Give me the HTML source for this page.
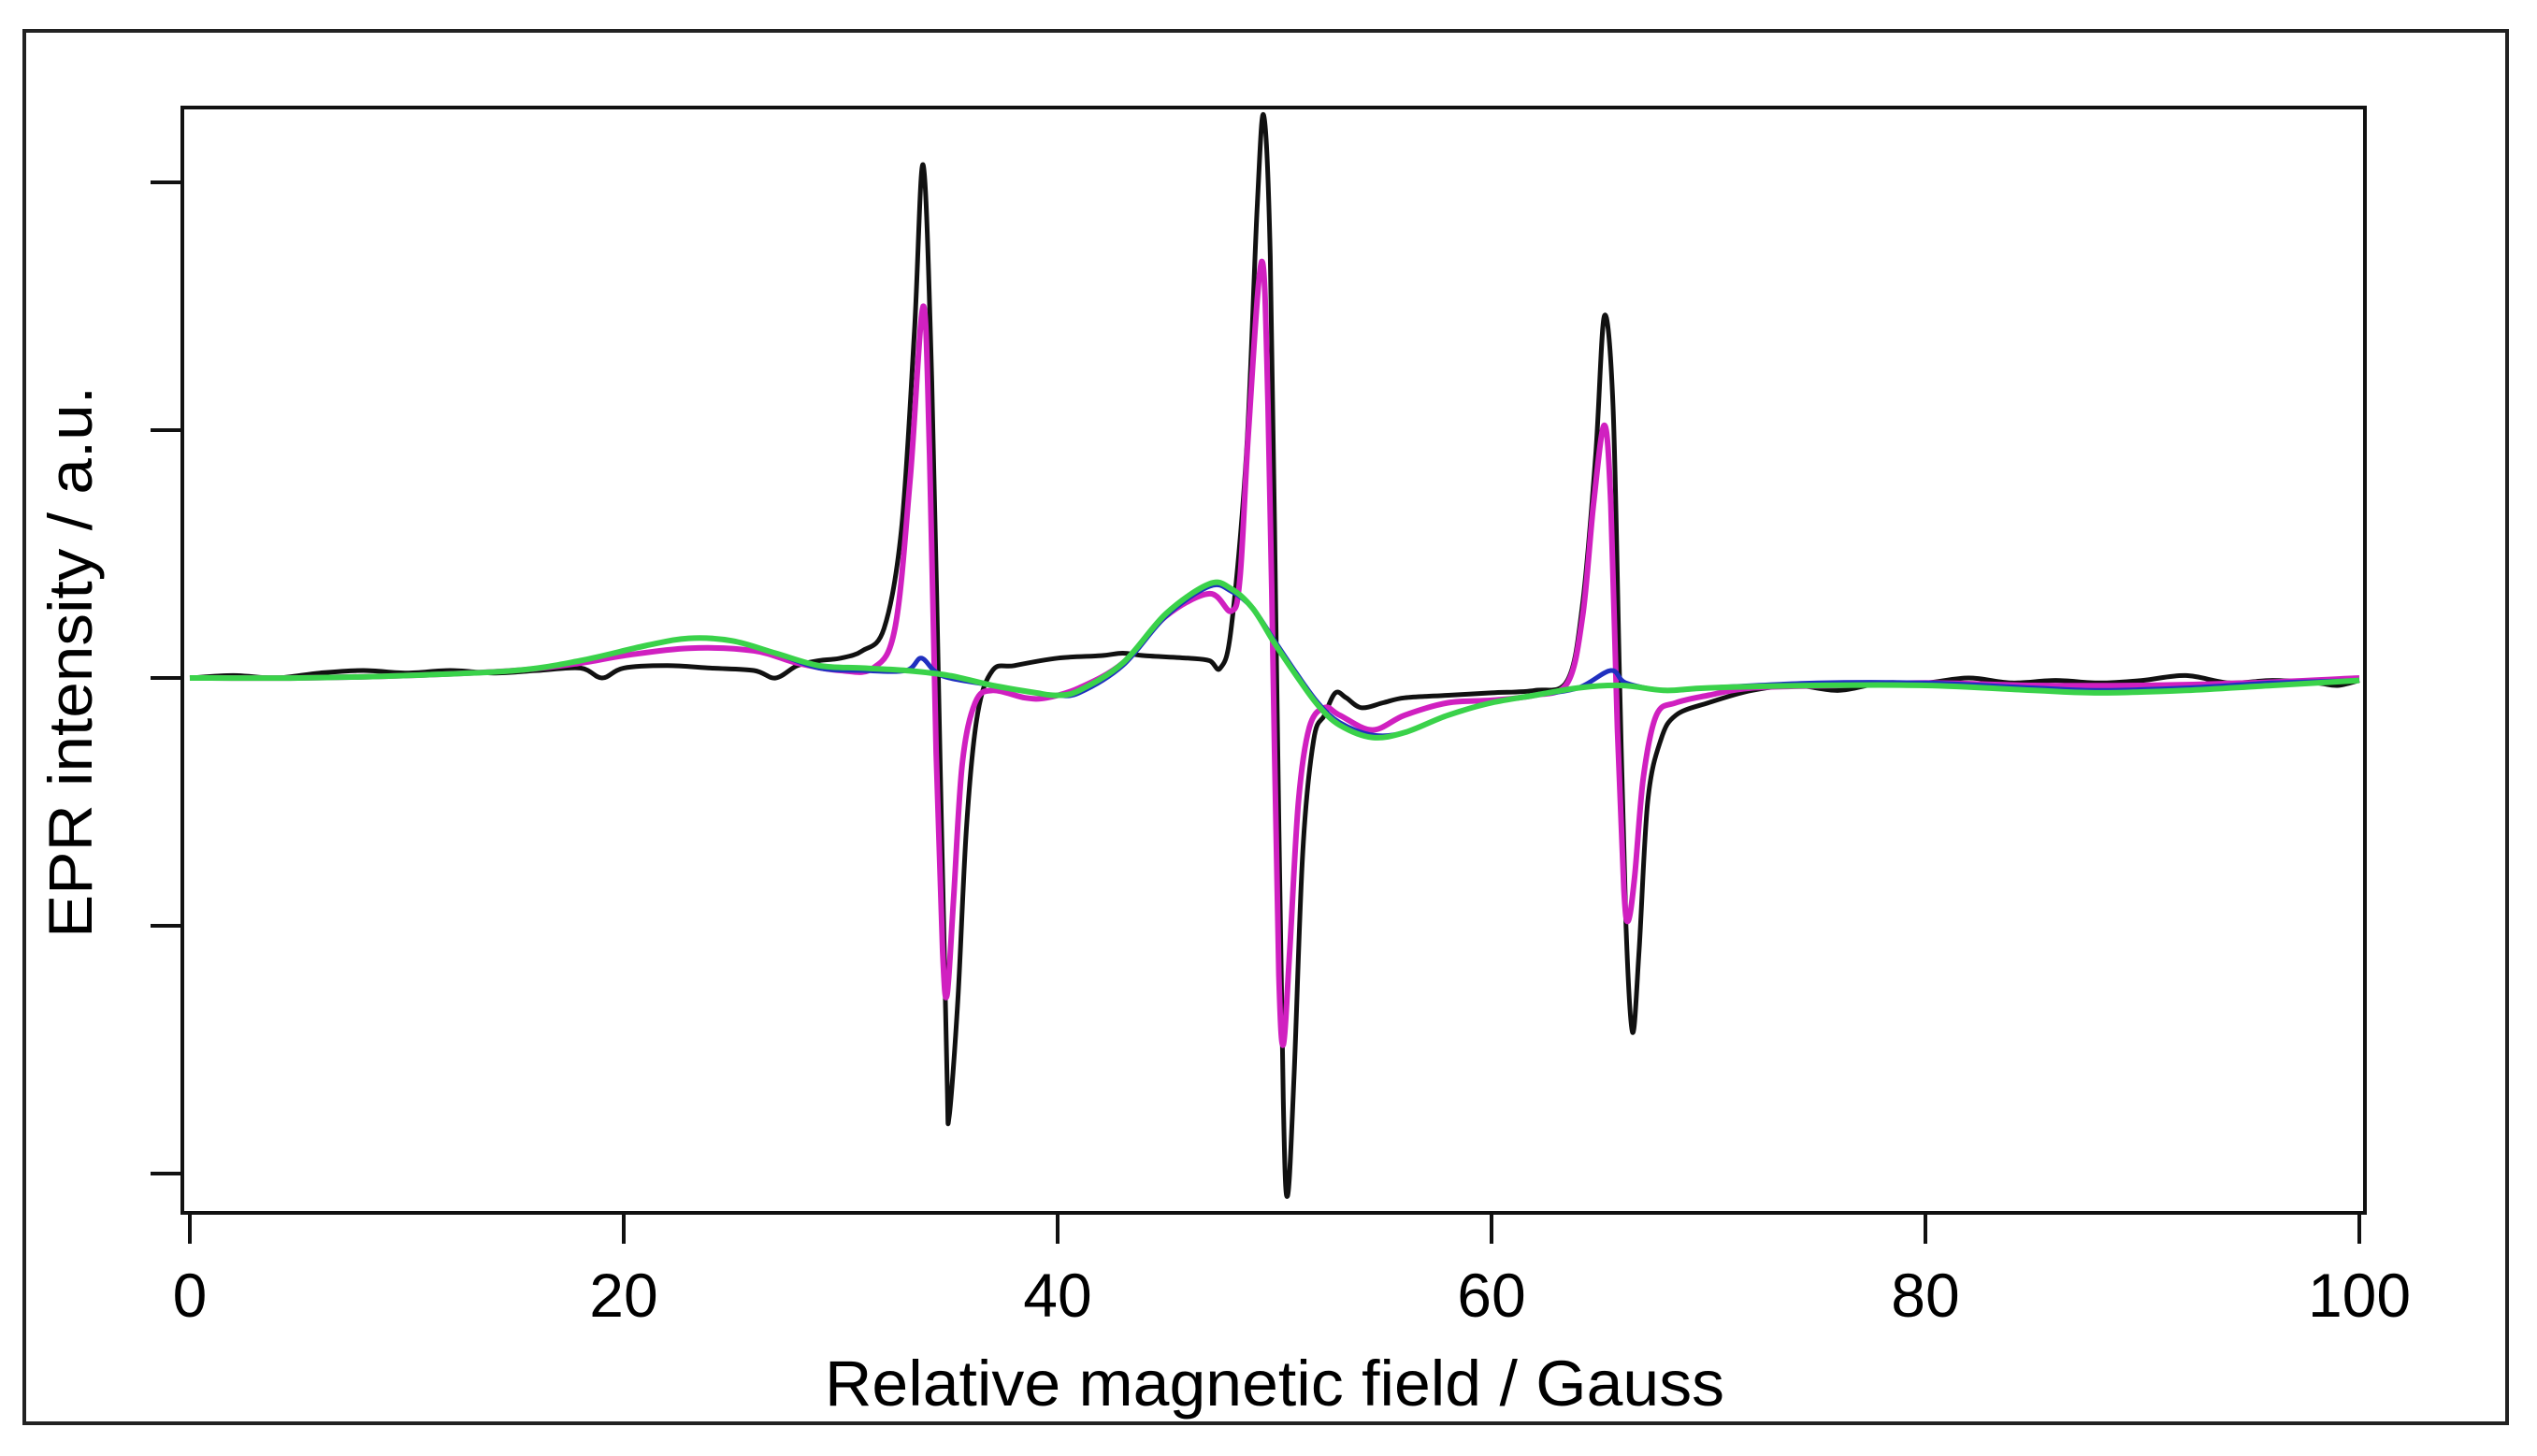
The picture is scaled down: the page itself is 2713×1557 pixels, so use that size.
<!DOCTYPE html>
<html><head><meta charset="utf-8"><title>EPR spectra</title>
<style>html,body{margin:0;padding:0;background:#fff;}svg{display:block;font-family:"Liberation Sans",Arial,sans-serif;}</style>
</head><body>
<svg id="chart" width="2713" height="1557" viewBox="0 0 2713 1557" xmlns="http://www.w3.org/2000/svg">
<rect x="26" y="33" width="2655" height="1489" fill="#fff" stroke="#222" stroke-width="4"/>
<rect x="195" y="115" width="2334" height="1182" fill="none" stroke="#111" stroke-width="4"/>
<g id="axes"></g>
<g id="series"></g>
<text x="1363" y="1503" font-size="69" text-anchor="middle" textLength="962" lengthAdjust="spacingAndGlyphs">Relative magnetic field / Gauss</text>
<text transform="translate(98,708) rotate(-90)" font-size="66" text-anchor="middle" textLength="590" lengthAdjust="spacingAndGlyphs">EPR intensity / a.u.</text>
</svg>
<script>
const xTicks=[0,20,40,60,80,100];
const yTicks=[-2,-1,0,1,2];
const blackX=[0,2,4,6,8,10,12,14,16,18,19,20,22,24,26,27,28,29,30,31,32,32.8,33.4,33.8,34.2,34.6,34.9,35.0,35.4,35.8,36.3,37,38,40,42,43,44,46,47,47.5,48,48.7,49.2,49.5,49.8,50.1,50.4,50.6,50.9,51.3,51.8,52.3,52.8,53.3,54,55,56,58,60,62,63.5,64.2,64.8,65.2,65.6,65.9,66.2,66.5,66.8,67.2,67.8,68.5,70,72,74,76,78,80,82,84,86,88,90,92,94,96,98,99,100];
const blackY=[0,0.01,0,0.02,0.03,0.02,0.03,0.02,0.03,0.04,0,0.04,0.05,0.04,0.03,0,0.05,0.07,0.08,0.11,0.2,0.6,1.4,2.07,1.2,-0.4,-1.6,-1.77,-1.3,-0.6,-0.15,0.03,0.05,0.08,0.09,0.1,0.09,0.08,0.07,0.04,0.2,0.9,1.9,2.27,1.7,0,-1.7,-2.09,-1.6,-0.7,-0.25,-0.15,-0.06,-0.08,-0.12,-0.1,-0.08,-0.07,-0.06,-0.05,-0.01,0.3,0.9,1.46,1.1,0,-1.0,-1.43,-1.1,-0.5,-0.25,-0.15,-0.1,-0.05,-0.03,-0.05,-0.02,-0.02,0,-0.02,-0.01,-0.02,-0.01,0.01,-0.02,-0.01,-0.02,-0.03,-0.01];
const magentaX=[0,5,10,15,18,20,23,26,28,30,31.5,32.5,33.2,33.8,34.1,34.4,34.7,34.9,35.2,35.6,36.2,37,38.5,39.5,41,43,45,47,48,48.4,48.8,49.4,49.7,50,50.2,50.4,50.7,51.1,51.6,52.3,53,54.5,56,58,60,62,63.5,64.2,64.7,65.2,65.5,65.8,66.1,66.3,66.6,67,67.6,68.5,70,72,76,80,85,90,95,100];
const magentaY=[0,0,0.01,0.03,0.06,0.09,0.12,0.11,0.06,0.03,0.04,0.2,0.8,1.5,0.9,-0.3,-1.1,-1.28,-0.9,-0.35,-0.1,-0.05,-0.08,-0.08,-0.04,0.06,0.25,0.34,0.27,0.4,1.0,1.68,1.1,-0.3,-1.2,-1.48,-1.1,-0.5,-0.2,-0.12,-0.15,-0.21,-0.15,-0.1,-0.09,-0.07,-0.02,0.25,0.7,1.02,0.7,-0.2,-0.85,-0.98,-0.8,-0.4,-0.15,-0.1,-0.07,-0.04,-0.03,-0.02,-0.03,-0.03,-0.02,0];
const blueX=[0,5,10,15,18,21,23,25,27,29,31,33,33.7,34.3,35,37,39,40,41,43,45,47,48,49,50,51,52,53,54.5,56,58,60,62,64,65.5,66.2,68,70,75,80,85,88,92,96,100];
const blueY=[0,0,0.01,0.03,0.07,0.13,0.16,0.15,0.1,0.04,0.03,0.03,0.08,0.03,0,-0.03,-0.06,-0.07,-0.06,0.05,0.25,0.37,0.35,0.28,0.15,0.02,-0.1,-0.18,-0.23,-0.22,-0.15,-0.1,-0.07,-0.04,0.03,-0.02,-0.05,-0.04,-0.02,-0.02,-0.04,-0.05,-0.04,-0.02,-0.01];
const greenX=[0,5,10,15,18,21,23,25,27,29,31,33,35,37,39,40,41,43,45,47,48,49,50,51,52,53,54.5,56,58,60,62,64,66,68,70,75,80,85,88,92,96,100];
const greenY=[0,0,0.01,0.03,0.07,0.13,0.16,0.15,0.1,0.05,0.04,0.03,0.01,-0.03,-0.06,-0.07,-0.05,0.06,0.26,0.38,0.36,0.28,0.14,0.01,-0.11,-0.19,-0.24,-0.22,-0.15,-0.1,-0.07,-0.04,-0.03,-0.05,-0.04,-0.03,-0.03,-0.05,-0.06,-0.05,-0.03,-0.01];

const X0=203,X1=2523,Y0=725,YU=265;
function sx(v){return X0+(X1-X0)*v/100;}
function sy(v){return Y0-v*YU;}
const NS='http://www.w3.org/2000/svg';
const axes=document.getElementById('axes');
xTicks.forEach(t=>{
  const l=document.createElementNS(NS,'line');
  
  
  l.setAttribute('x1',sx(t));l.setAttribute('x2',sx(t));l.setAttribute('y1',1297);l.setAttribute('y2',1330);
  l.setAttribute('stroke','#111');l.setAttribute('stroke-width','4');
  axes.appendChild(l);
  const tx=document.createElementNS(NS,'text');
  
  
  tx.setAttribute('x',sx(t));tx.setAttribute('y',1408);tx.setAttribute('font-size','66');tx.setAttribute('text-anchor','middle');
  tx.textContent=t;
  axes.appendChild(tx);
});
yTicks.forEach(t=>{
  const l=document.createElementNS(NS,'line');
  
  
  l.setAttribute('x1',161);l.setAttribute('x2',195);l.setAttribute('y1',sy(t));l.setAttribute('y2',sy(t));
  l.setAttribute('stroke','#111');l.setAttribute('stroke-width','4');
  axes.appendChild(l);
});
const ser=document.getElementById('series');
function pathD(xs,ys){
  const P=xs.map((x,i)=>[sx(x),sy(ys[i])]);
  let d='M'+P[0][0].toFixed(1)+','+P[0][1].toFixed(1);
  const k=0.5/3;
  for(let i=0;i<P.length-1;i++){
    const p0=P[Math.max(i-1,0)],p1=P[i],p2=P[i+1],p3=P[Math.min(i+2,P.length-1)];
    const c1=[p1[0]+(p2[0]-p0[0])*k,p1[1]+(p2[1]-p0[1])*k];
    const c2=[p2[0]-(p3[0]-p1[0])*k,p2[1]-(p3[1]-p1[1])*k];
    d+=' C'+c1.map(v=>v.toFixed(1)).join(',')+' '+c2.map(v=>v.toFixed(1)).join(',')+' '+p2.map(v=>v.toFixed(1)).join(',');
  }
  return d;
}
function draw(xs,ys,color,w,name){
  const p=document.createElementNS(NS,'path');
  
  
  p.setAttribute('d',pathD(xs,ys));
  p.setAttribute('fill','none');p.setAttribute('stroke',color);p.setAttribute('stroke-width',w);
  p.setAttribute('stroke-linejoin','round');
  ser.appendChild(p);
}
draw(blackX,blackY,'#111','5','series-black');
draw(magentaX,magentaY,'#d020c0','6','series-magenta');
draw(blueX,blueY,'#2030c0','5','series-blue');
draw(greenX,greenY,'#3ad24a','6','series-green');
</script>
</body></html>
